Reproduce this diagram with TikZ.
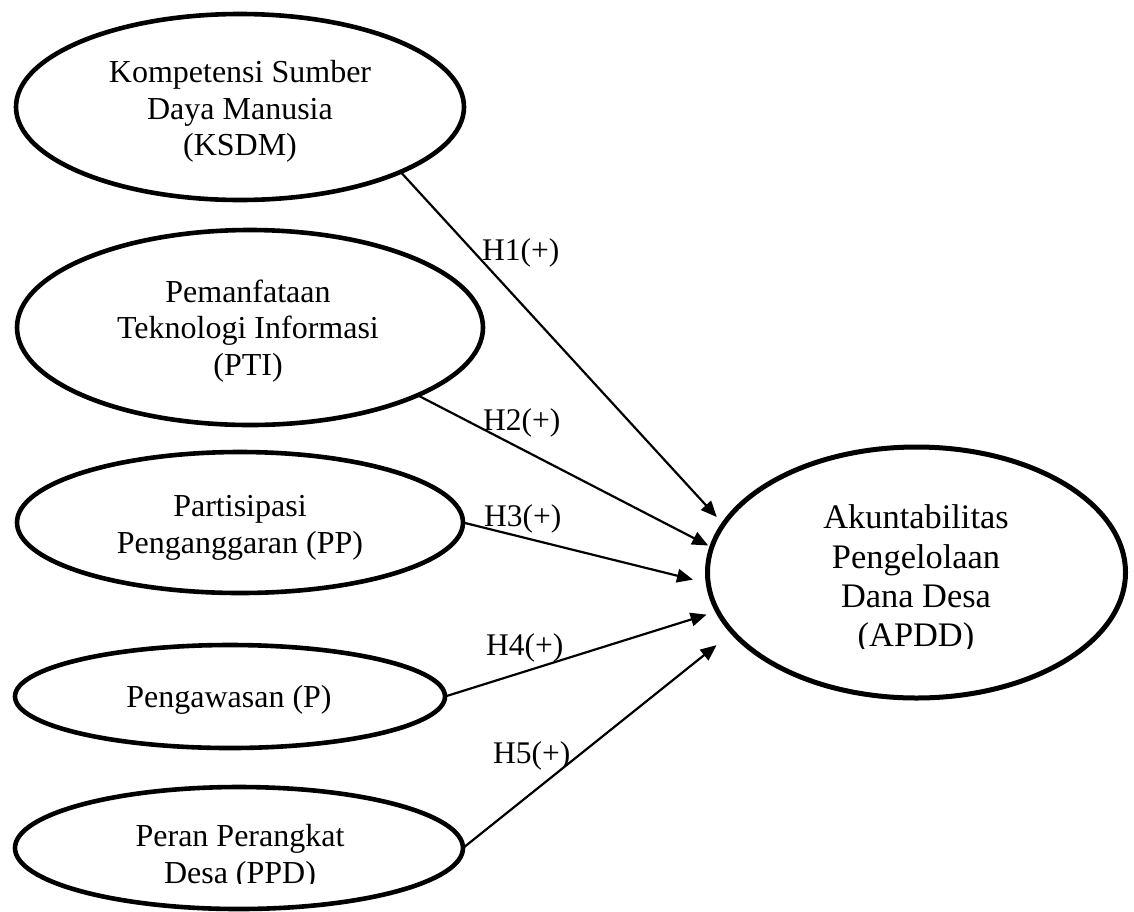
\documentclass[tikz,border=0pt]{standalone}
\usepackage{fontspec}
\setmainfont{Liberation Serif}
\usetikzlibrary{shapes.geometric,arrows.meta}
\begin{document}
\begin{tikzpicture}[x=1pt,y=-1pt,
  var/.style={draw, ellipse, line width=4.6pt, inner sep=0pt, outer sep=0pt},
  ltxt/.style={font=\fontsize{32}{36.5}\selectfont, align=center, inner sep=0pt},
  rtxt/.style={font=\fontsize{34.4}{39.3}\selectfont, align=center, inner sep=0pt},
  hyp/.style={font=\fontsize{31.5}{36}\selectfont, inner sep=0pt, anchor=base west},
  arr/.style={line width=2.2pt, -{Triangle[length=16pt,width=13.5pt]}}]
\fill[white] (0,0) rectangle (1134,911);
\useasboundingbox (0,0) rectangle (1134,911);

% ellipses
\node[var, minimum width=448pt, minimum height=186pt] (ksdm) at (240,107) {};
\node[var, minimum width=466pt, minimum height=195pt] (pti) at (250,327.5) {};
\node[var, minimum width=446pt, minimum height=141pt] (pp) at (240,522.5) {};
\node[var, minimum width=430pt, minimum height=103pt] (p) at (230,696.5) {};
\node[var, minimum width=448pt, minimum height=122pt] (ppd) at (239,848) {};
\node[var, line width=5pt, minimum width=418pt, minimum height=251pt] (apdd) at (916.5,572.5) {};

% texts
\node[ltxt] (ksdmt) at (240,111.5) {Kompetensi Sumber\\Daya Manusia\\(KSDM)};
\node[ltxt] (ptit) at (248,331) {Pemanfataan\\Teknologi Informasi\\(PTI)};
\node[ltxt] (ppt) at (240,528) {Partisipasi\\Penganggaran (PP)};
\node[ltxt] (pt) at (229,700) {Pengawasan (P)};
\begin{scope}
  \clip (0,0) rectangle (1134,883);
  \node[ltxt] (ppdt) at (240,857.5) {Peran Perangkat\\Desa (PPD)};
\end{scope}
\begin{scope}
  \clip (0,0) rectangle (1134,648.3);
  \node[rtxt] (apddt) at (916,579.5) {Akuntabilitas\\Pengelolaan\\Dana Desa\\(APDD)};
\end{scope}

% connectors
\draw[arr, shorten >=10pt] (ksdm.-22.4) -- (apdd.166.5);
\draw[arr, shorten >=4pt] (pti.-22.8) -- (apdd.173.6);
\draw[arr, shorten >=15.8pt] (pp.-0.4) -- (apdd.183.8);
\draw[arr, shorten >=11.6pt] (p.east) -- (apdd.191.6);
\draw[arr, shorten >=20.7pt] (ppd.east) -- (apdd.198.5);

% hypothesis labels
\node[hyp] (h1) at (482,260) {H1(+)};
\node[hyp] (h2) at (483,430) {H2(+)};
\node[hyp] (h3) at (484,526) {H3(+)};
\node[hyp] (h4) at (486,655) {H4(+)};
\node[hyp] (h5) at (493,763) {H5(+)};
\end{tikzpicture}
\end{document}
